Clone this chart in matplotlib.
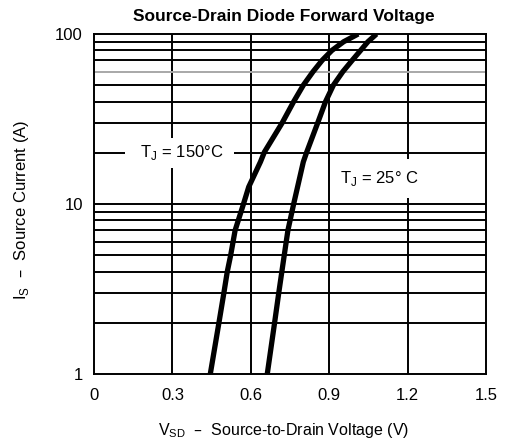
import matplotlib.pyplot as plt
import numpy as np

plt.rcParams['font.family'] = ['Liberation Sans', 'DejaVu Sans']

# values (current in A, voltage in V)
i_150c = [1, 2, 3, 4, 5, 7, 10, 12.6, 17.7, 20.2, 30, 40, 50, 60, 70, 80, 90, 100]
v_150c = [0.445, 0.478, 0.497, 0.510, 0.523, 0.540, 0.572, 0.592, 0.637, 0.652,
          0.720, 0.764, 0.801, 0.838, 0.873, 0.910, 0.955, 1.011]
i_25c = [1, 2, 3, 5, 7, 10, 17.7, 20.2, 30, 40, 50, 60, 70, 80, 90, 100]
v_25c = [0.663, 0.691, 0.707, 0.728, 0.742, 0.764, 0.801, 0.814,
         0.856, 0.886, 0.916, 0.952, 0.988, 1.020, 1.048, 1.081]

x_ticks = [0, 0.3, 0.6, 0.9, 1.2, 1.5]
x_labels = ["0", "0.3", "0.6", "0.9", "1.2", "1.5"]
y_ticks = [1, 10, 100]
y_labels = ["1", "10", "100"]

W, H = 505, 444
fig = plt.figure(figsize=(W / 100, H / 100), dpi=100)
ax = fig.add_axes([94 / W, 1 - 374 / H, (486 - 94) / W, (374 - 34) / H])
ax.set_yscale("log")
ax.set_xlim(0, 1.5)
ax.set_ylim(1, 100)

# grid
for x in x_ticks[1:-1]:
    ax.axvline(x, color="black", lw=1.4, zorder=1)
for dec in [1, 10]:
    for m in range(2, 10):
        c = "#a8a8a8" if (dec == 10 and m == 6) else "black"
        ax.axhline(dec * m, color=c, lw=1.4, zorder=1)
ax.axhline(10, color="black", lw=1.4, zorder=1)

ax.plot(v_150c, i_150c, color="black", lw=3.8, zorder=3,
        solid_capstyle="butt", solid_joinstyle="round")
ax.plot(v_25c, i_25c, color="black", lw=3.8, zorder=3,
        solid_capstyle="butt", solid_joinstyle="round")

ax.text(0.328, 20, "  T$_\\mathregular{J}$ = 150°C  ", fontsize=12, ha="center", va="center",
        bbox=dict(facecolor="white", edgecolor="none", pad=4), zorder=4)
ax.text(1.092, 14.1, "T$_\\mathregular{J}$ = 25° C", fontsize=12, ha="center", va="center",
        bbox=dict(facecolor="white", edgecolor="none", pad=7), zorder=4)

for s in ax.spines.values():
    s.set_linewidth(1.4)
ax.set_xticks(x_ticks)
ax.set_xticklabels(x_labels, fontsize=12)
ax.set_yticks(y_ticks)
ax.set_yticklabels(y_labels, fontsize=12)
ax.minorticks_off()
ax.tick_params(axis="x", length=0, pad=10)
ax.tick_params(axis="y", length=0, pad=8)

fig.text(284 / W, 1 - 17 / H, "Source-Drain Diode Forward Voltage", fontsize=12.5,
         fontweight="bold", ha="center", va="center")
fig.text(284 / W, 1 - 430 / H, "V$_\\mathregular{SD}$  –  Source-to-Drain Voltage (V)",
         fontsize=11.5, ha="center", va="center")
fig.text(22 / W, 1 - 210 / H, "I$_\\mathregular{S}$  –  Source Current (A)",
         fontsize=12, ha="center", va="center", rotation=90)

fig.savefig("out.png", dpi=100)
